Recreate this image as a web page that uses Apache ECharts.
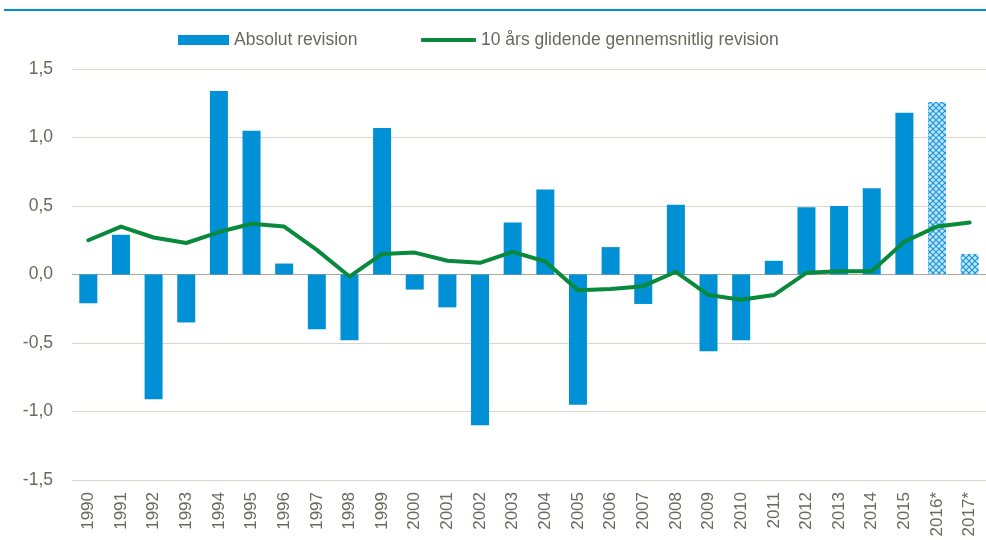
<!DOCTYPE html>
<html>
<head>
<meta charset="utf-8">
<script src="https://cdn.jsdelivr.net/npm/echarts@6/dist/echarts.min.js"></script>
<style>
html,body{margin:0;padding:0;background:#fff;}
#chart{width:986px;height:540px;}
</style>
</head>
<body>
<div id="chart"></div>
<script>
var years = ['1990','1991','1992','1993','1994','1995','1996','1997','1998','1999','2000','2001','2002','2003','2004','2005','2006','2007','2008','2009','2010','2011','2012','2013','2014','2015','2016*','2017*'];
var absolutRevision = [-0.21,0.29,-0.91,-0.35,1.34,1.05,0.08,-0.40,-0.48,1.07,-0.11,-0.24,-1.10,0.38,0.62,-0.95,0.20,-0.215,0.51,-0.56,-0.48,0.10,0.49,0.50,0.63,1.18,1.26,0.15];
var glidendeRevision = [0.25,0.35,0.27,0.23,0.31,0.37,0.35,0.18,-0.015,0.15,0.16,0.10,0.085,0.165,0.095,-0.115,-0.105,-0.085,0.02,-0.15,-0.185,-0.15,0.012,0.024,0.024,0.24,0.35,0.38];
var forecastYears = ['2016*','2017*'];
var yTicks = {min:-1.5, max:1.5, interval:0.5};
var seriesNames = ['Absolut revision','10 års glidende gennemsnitlig revision'];

var BLUE = '#0090d5';
var GREEN = '#08893c';
var TXT = '#6b695c';

// hatched pattern for forecast bars
var pc = document.createElement('canvas');
pc.width = 6; pc.height = 6;
var ctx = pc.getContext('2d');
ctx.fillStyle = '#c4e4f6';
ctx.fillRect(0,0,6,6);
ctx.strokeStyle = '#1596d6';
ctx.lineWidth = 1.1;
ctx.beginPath();
ctx.moveTo(0,0); ctx.lineTo(6,6);
ctx.moveTo(6,0); ctx.lineTo(0,6);
ctx.stroke();
var hatch = {image: pc, repeat: 'repeat'};

var barData = years.map(function(y,i){
  if (forecastYears.indexOf(y) >= 0) {
    return {value: absolutRevision[i], itemStyle: {color: hatch}};
  }
  return absolutRevision[i];
});

var legendText = {fontFamily: '"Liberation Sans",Arial,sans-serif', fontSize: 17.5, color: TXT};

var chart = echarts.init(document.getElementById('chart'), null, {renderer:'canvas'});
chart.setOption({
  animation: false,
  backgroundColor: '#fff',
  graphic: [{
    type: 'rect', left: 4, top: 9, silent: true,
    shape: {width: 982, height: 2},
    style: {fill: BLUE}
  }],
  legend: [{
    left: 178, top: 31, padding: 0,
    itemWidth: 51, itemHeight: 10, itemGap: 10,
    data: [{name: seriesNames[0], icon: 'rect'}],
    textStyle: legendText
  },{
    left: 421, top: 31, padding: 0,
    itemWidth: 55, itemHeight: 4,
    data: [{name: seriesNames[1], icon: 'roundRect'}],
    textStyle: legendText
  }],
  grid: {left: 72, top: 69, width: 919, height: 411, containLabel: false},
  xAxis: {
    type: 'category',
    data: years,
    axisLine: {show: false, onZero: false},
    axisTick: {show: false},
    axisLabel: {rotate: 90, margin: 12, color: TXT, fontSize: 17, fontFamily: '"Liberation Sans",Arial,sans-serif', interval: 0}
  },
  yAxis: {
    type: 'value',
    min: yTicks.min, max: yTicks.max, interval: yTicks.interval,
    axisLine: {show: false},
    axisTick: {show: false},
    splitLine: {lineStyle: {color: '#d8d6cd', width: 1}},
    axisLabel: {
      margin: 19, color: TXT, fontSize: 17.5, fontFamily: '"Liberation Sans",Arial,sans-serif',
      formatter: function(v){ return v.toFixed(1).replace('.', ','); }
    }
  },
  series: [{
    name: seriesNames[0],
    type: 'bar',
    barWidth: 18,
    itemStyle: {color: BLUE},
    data: barData,
    markLine: {
      silent: true, symbol: 'none', label: {show: false},
      lineStyle: {color: '#a9a69a', width: 1, type: 'solid'},
      data: [{yAxis: 0}],
      z: 1
    }
  },{
    name: seriesNames[1],
    type: 'line',
    data: glidendeRevision,
    symbol: 'none',
    lineStyle: {color: GREEN, width: 4, cap: 'round', join: 'round'},
    itemStyle: {color: GREEN},
    z: 5
  }]
});
</script>
</body>
</html>
